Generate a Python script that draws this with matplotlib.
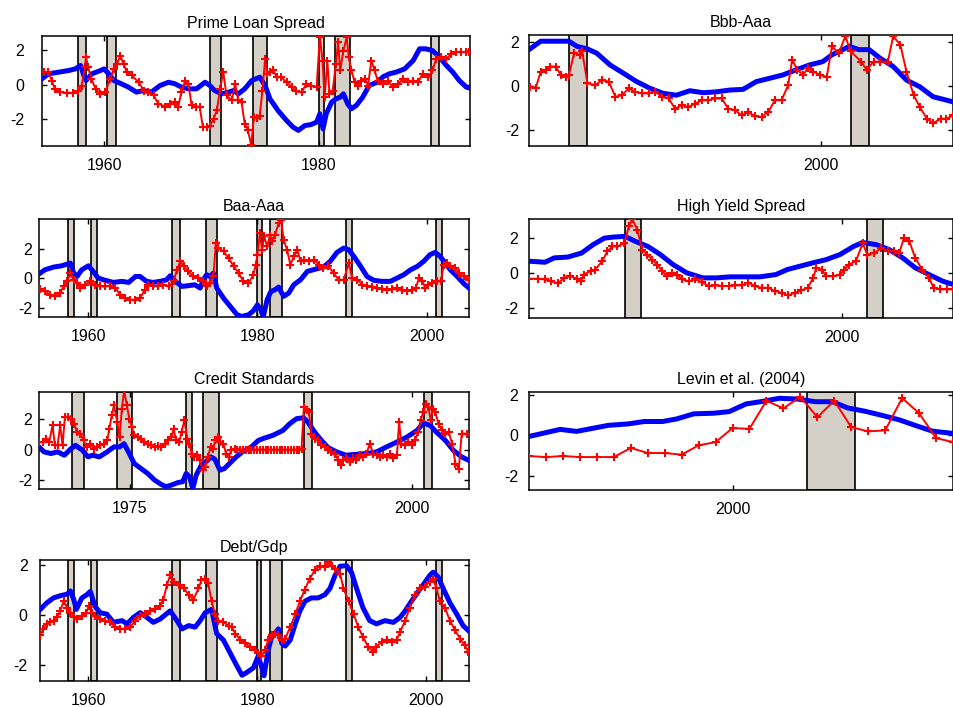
import numpy as np
import matplotlib
matplotlib.use('Agg')
import matplotlib.pyplot as plt

plt.rcParams['font.family'] = ['Liberation Sans', 'DejaVu Sans']
plt.rcParams['axes.unicode_minus'] = False

# NBER recessions (start, end)
recessions = [(1957.6, 1958.3), (1960.3, 1961.1), (1969.9, 1970.9), (1973.9, 1975.2),
              (1980.0, 1980.5), (1981.5, 1982.9), (1990.5, 1991.2), (2001.1, 2001.8)]

# (year, value)
prime_red = [(1954.35, 0.71), (1954.8, 0.71), (1955.1, 0.23), (1955.4, -0.25), (1955.9, -0.44), (1956.5, -0.48),
             (1957.1, -0.48), (1957.6, -0.35), (1957.9, -0.06), (1958.2, 1.0), (1958.3, 1.58), (1958.5, 1.0),
             (1958.8, 0.33), (1959.2, -0.25), (1959.6, -0.54), (1960.1, -0.44), (1960.55, 0.33), (1960.9, 0.9),
             (1961.2, 1.19), (1961.5, 1.67), (1961.8, 1.19), (1962.1, 0.71), (1962.6, 0.52), (1963.2, 0.13),
             (1963.7, -0.35), (1964.1, -0.44), (1964.6, -0.63), (1965.05, -1.12), (1965.7, -1.27), (1966.15, -1.15),
             (1966.6, -1.02), (1966.9, -1.27), (1967.2, -0.44), (1967.55, 0.23), (1967.85, 0.04), (1968.15, -1.21),
             (1968.6, -1.27), (1968.9, -1.3), (1969.2, -2.46), (1969.55, -2.46), (1969.85, -2.37), (1970.2, -1.98),
             (1970.5, -1.5), (1970.8, -0.25), (1971.1, 0.71), (1971.4, -0.63), (1971.9, -0.92), (1972.2, 0.04),
             (1972.5, -0.92), (1972.8, -1.02), (1973.1, -2.27), (1973.4, -2.65), (1973.7, -3.5), (1973.95, -1.88),
             (1974.2, -1.92), (1974.5, -1.79), (1974.75, -0.35), (1975.0, 1.48), (1975.2, 0.62), (1975.45, 0.71),
             (1975.75, 0.81), (1976.1, 0.42), (1976.5, 0.42), (1977.0, 0.13), (1977.5, -0.15), (1977.9, -0.4),
             (1978.4, -0.44), (1978.85, 0.04), (1979.3, -0.06), (1979.8, -0.15), (1980.1, 2.73), (1980.35, 1.38),
             (1980.55, -0.73), (1980.8, 1.38), (1981.0, -0.54), (1981.3, -0.35), (1981.6, 1.19), (1981.8, 2.44),
             (1982.0, 0.81), (1982.3, 1.96), (1982.6, 2.73), (1982.8, 1.58), (1983.05, 0.81), (1983.35, 0.13),
             (1983.65, -0.06), (1983.97, 0.23), (1984.3, 0.33), (1984.6, -0.06), (1984.9, 1.38), (1985.2, 0.81),
             (1985.5, 0.23), (1986.0, 0.04), (1986.45, 0.23), (1986.9, -0.15), (1987.4, 0.04), (1987.85, 0.33),
             (1988.3, 0.13), (1988.8, 0.23), (1989.25, 0.13), (1989.7, 0.62), (1990.2, 0.42), (1990.6, 0.81),
             (1990.95, 1.48), (1991.4, 1.58), (1991.9, 1.48), (1992.35, 1.77), (1992.8, 1.87), (1993.3, 1.87),
             (1993.7, 1.87), (1994.05, 1.87)]
prime_blue = [(1954.2, 0.33), (1954.8, 0.62), (1955.75, 0.71), (1956.7, 0.81), (1957.3, 0.9), (1957.8, 1.1),
              (1958.1, 0.52), (1958.3, 0.23), (1958.85, 0.62), (1959.5, 0.77), (1960.0, 0.9), (1960.4, 0.62),
              (1960.9, 0.23), (1961.6, 0.04), (1962.25, -0.15), (1963.0, -0.44), (1963.65, -0.35), (1964.4, -0.44),
              (1965.2, -0.06), (1966.0, 0.13), (1966.6, 0.04), (1967.2, -0.15), (1967.85, -0.25), (1968.6, -0.25),
              (1969.4, 0.13), (1969.85, -0.06), (1970.3, -0.35), (1970.95, -0.54), (1971.6, -0.44), (1972.05, -0.35),
              (1972.5, -0.54), (1973.1, -0.25), (1973.75, 0.23), (1974.5, 0.42), (1975.0, -0.06), (1975.45, -0.83),
              (1976.2, -1.5), (1977.0, -2.08), (1977.6, -2.46), (1978.1, -2.65), (1978.7, -2.37), (1979.3, -2.31),
              (1979.8, -2.17), (1980.1, -1.69), (1980.4, -2.56), (1980.7, -1.69), (1981.2, -1.02), (1981.6, -0.83),
              (1982.0, -0.73), (1982.3, -0.54), (1982.7, -1.12), (1983.05, -1.4), (1983.5, -1.21), (1984.1, -0.73),
              (1984.7, -0.06), (1985.5, 0.15), (1986.0, 0.45), (1986.6, 0.62), (1987.2, 0.71), (1988.0, 0.9),
              (1988.8, 1.38), (1989.4, 2.06), (1990.0, 2.06), (1990.6, 1.96), (1991.25, 1.58), (1991.9, 1.1),
              (1992.5, 0.71), (1993.1, 0.23), (1993.75, -0.15), (1994.05, -0.2)]

bbb_red = [(1989.05, -0.06), (1989.25, -0.1), (1989.44, 0.65), (1989.63, 0.73), (1989.8, 0.88), (1990.0, 0.88),
           (1990.2, 0.5), (1990.38, 0.42), (1990.5, 0.5), (1990.7, 1.48), (1990.9, 1.41), (1991.0, 1.56),
           (1991.2, 0.12), (1991.5, 0.05), (1991.75, 0.27), (1992.0, 0.2), (1992.25, -0.48), (1992.5, -0.41),
           (1992.75, -0.1), (1993.0, -0.26), (1993.25, -0.33), (1993.5, -0.33), (1993.75, -0.26), (1994.0, -0.48),
           (1994.25, -0.56), (1994.5, -1.02), (1994.75, -0.86), (1995.0, -0.94), (1995.25, -0.79), (1995.5, -0.64),
           (1995.75, -0.64), (1996.0, -0.56), (1996.25, -0.56), (1996.5, -1.02), (1996.75, -1.09), (1997.0, -1.32),
           (1997.25, -1.17), (1997.5, -1.36), (1997.75, -1.39), (1998.0, -1.17), (1998.25, -0.64), (1998.5, -0.64),
           (1998.75, 0.05), (1998.9, 1.18), (1999.1, 0.73), (1999.3, 0.5), (1999.5, 0.8), (1999.7, 0.65),
           (1999.95, 0.5), (2000.2, 0.42), (2000.4, 1.79), (2000.65, 1.48), (2000.9, 2.24), (2001.1, 1.56),
           (2001.5, 1.1), (2001.7, 0.73), (2001.97, 1.1), (2002.2, 1.1), (2002.5, 1.1), (2002.7, 2.24),
           (2002.97, 1.86), (2003.2, 0.65), (2003.47, -0.41), (2003.7, -0.94), (2003.97, -1.47), (2004.2, -1.67),
           (2004.5, -1.47), (2004.7, -1.47), (2004.95, -1.32)]
bbb_blue = [(1989.0, 1.64), (1989.44, 2.02), (1989.94, 2.02), (1990.5, 2.02), (1990.8, 1.79), (1991.2, 1.67),
            (1991.55, 1.48), (1992.05, 0.95), (1992.55, 0.58), (1993.05, 0.2), (1993.55, -0.1), (1994.05, -0.33),
            (1994.55, -0.41), (1995.05, -0.21), (1995.55, -0.3), (1996.05, -0.26), (1996.55, -0.18), (1997.05, -0.15),
            (1997.55, 0.2), (1998.05, 0.35), (1998.55, 0.5), (1999.05, 0.73), (1999.55, 0.95), (2000.05, 1.1),
            (2000.4, 1.41), (2000.8, 1.64), (2001.05, 1.79), (2001.4, 1.64), (2001.8, 1.64), (2002.2, 1.26),
            (2002.7, 0.88), (2003.2, 0.27), (2003.7, -0.03), (2004.2, -0.48), (2004.95, -0.71)]

baa_red = [(1954.3, -0.72), (1954.9, -0.88), (1955.5, -1.1), (1956.1, -1.21), (1956.7, -0.99), (1957.1, -0.54),
           (1957.5, -0.2), (1957.9, 0.36), (1958.3, -0.09), (1958.7, -0.31), (1959.1, -0.65), (1959.65, -0.43),
           (1960.25, -0.2), (1960.8, -0.43), (1961.4, -0.54), (1962.0, -0.54), (1962.6, -0.49), (1963.2, -0.65),
           (1963.8, -1.1), (1964.4, -1.33), (1965.0, -1.44), (1965.6, -1.44), (1966.15, -1.33), (1966.7, -0.76),
           (1967.1, -0.43), (1967.7, -0.54), (1968.3, -0.49), (1968.9, -0.43), (1969.5, -0.54), (1970.1, -0.2),
           (1970.5, 0.58), (1970.9, 1.15), (1971.3, 0.81), (1971.85, 0.47), (1972.45, 0.13), (1973.0, 0.02),
           (1973.6, -0.2), (1974.0, -0.54), (1974.4, -0.31), (1974.8, 0.13), (1975.1, 2.38), (1975.4, 2.04),
           (1976.0, 1.82), (1976.6, 1.37), (1977.2, 0.81), (1977.8, 0.36), (1978.35, -0.2), (1978.95, -0.31),
           (1979.5, 0.2), (1979.8, 0.9), (1980.0, 1.6), (1980.3, 3.06), (1980.55, 1.93), (1980.8, 2.83),
           (1981.15, 2.16), (1981.5, 2.94), (1981.75, 2.49), (1982.1, 2.94), (1982.5, 3.73), (1982.8, 3.96),
           (1983.1, 2.61), (1983.5, 1.93), (1983.9, 0.92), (1984.3, 1.48), (1984.7, 1.93), (1985.1, 1.15),
           (1985.5, 1.26), (1986.1, 1.15), (1986.7, 1.26), (1987.25, 0.92), (1987.8, 0.7), (1988.4, 0.81),
           (1989.0, 0.36), (1989.6, -0.09), (1990.2, -0.09), (1990.8, 1.03), (1991.2, 0.02), (1991.8, -0.09),
           (1992.4, -0.43), (1993.0, -0.54), (1993.55, -0.58), (1994.15, -0.65), (1994.7, -0.72), (1995.3, -0.76),
           (1995.9, -0.72), (1996.5, -0.65), (1997.1, -0.76), (1997.7, -0.88), (1998.3, -0.76), (1998.7, -0.65),
           (1999.1, 0.02), (1999.5, -0.2), (1999.85, -0.65), (2000.2, -0.43), (2000.6, -0.31), (2001.2, -0.2),
           (2001.7, -0.2), (2002.0, 0.92), (2002.4, 1.03), (2002.8, 0.81), (2003.3, 0.7), (2003.8, 0.36),
           (2004.4, 0.13), (2005.0, -0.09)]
baa_blue = [(1954.2, 0.3), (1954.9, 0.58), (1955.9, 0.76), (1956.9, 0.85), (1957.9, 1.03), (1958.3, 0.36),
            (1958.7, 0.13), (1959.25, 0.58), (1960.05, 0.85), (1960.6, 0.47), (1961.2, 0.02), (1962.0, -0.13),
            (1963.0, -0.27), (1963.97, -0.2), (1964.8, -0.27), (1965.6, 0.13), (1966.15, 0.13), (1966.9, -0.2),
            (1967.7, -0.27), (1968.5, -0.2), (1969.3, -0.09), (1969.7, 0.18), (1970.3, -0.2), (1971.1, -0.54),
            (1971.85, -0.49), (1972.6, -0.43), (1973.25, -0.65), (1973.6, -0.09), (1974.0, 0.25), (1974.4, 0.13),
            (1974.8, 0.36), (1975.2, -0.65), (1976.0, -1.33), (1976.8, -1.89), (1977.6, -2.45), (1978.15, -2.56),
            (1978.95, -2.45), (1979.5, -2.2), (1980.0, -1.78), (1980.4, -2.11), (1980.7, -2.56), (1981.15, -1.44),
            (1981.6, -0.88), (1982.1, -0.76), (1982.5, -0.58), (1983.1, -1.21), (1983.7, -0.99), (1984.3, -0.43),
            (1985.1, -0.09), (1985.9, 0.47), (1986.9, 0.63), (1987.8, 0.76), (1988.6, 1.15), (1989.4, 1.75),
            (1990.2, 2.04), (1990.8, 1.93), (1991.4, 1.48), (1992.2, 0.81), (1992.95, 0.13), (1993.75, -0.13),
            (1994.7, -0.2), (1995.7, -0.2), (1996.5, 0.02), (1997.3, 0.25), (1998.1, 0.58), (1998.9, 0.81),
            (1999.65, 1.15), (2000.4, 1.6), (2001.0, 1.75), (2001.6, 1.48), (2002.2, 1.03), (2002.8, 0.58),
            (2003.6, 0.13), (2004.4, -0.36), (2005.0, -0.65)]

hy_red = [(1986.32, -0.34), (1986.7, -0.34), (1987.0, -0.38), (1987.26, -0.48), (1987.55, -0.61), (1987.85, -0.29),
          (1988.1, -0.19), (1988.4, -0.34), (1988.57, -0.48), (1988.7, -0.1), (1989.0, 0.1), (1989.2, 0.19),
          (1989.5, 0.67), (1989.73, 1.24), (1989.95, 1.52), (1990.17, 1.52), (1990.46, 1.71), (1990.67, 2.67),
          (1990.82, 3.09), (1991.04, 2.48), (1991.25, 1.33), (1991.47, 1.05), (1991.69, 0.76), (1991.9, 0.48),
          (1992.13, 0.1), (1992.34, -0.19), (1992.56, 0.0), (1992.78, -0.1), (1993.0, -0.38), (1993.29, -0.48),
          (1993.58, -0.38), (1993.87, -0.53), (1994.16, -0.76), (1994.45, -0.72), (1994.74, -0.76), (1995.03, -0.76),
          (1995.32, -0.72), (1995.6, -0.72), (1995.9, -0.57), (1996.19, -0.76), (1996.48, -0.86), (1996.77, -0.86),
          (1997.06, -1.05), (1997.35, -1.14), (1997.64, -1.3), (1997.93, -1.14), (1998.22, -1.01), (1998.5, -0.86),
          (1998.73, -0.29), (1998.87, 0.29), (1999.1, 0.19), (1999.3, -0.19), (1999.6, -0.19), (1999.9, -0.1),
          (2000.1, 0.19), (2000.3, 0.48), (2000.6, 0.67), (2000.9, 1.71), (2001.1, 1.05), (2001.4, 1.14),
          (2001.7, 1.43), (2001.99, 1.24), (2002.28, 1.24), (2002.5, 1.14), (2002.7, 2.0), (2002.94, 1.81),
          (2003.2, 0.86), (2003.5, 0.19), (2003.8, -0.29), (2004.0, -0.86), (2004.3, -0.95), (2004.6, -0.95),
          (2004.85, -0.95)]
hy_blue = [(1986.3, 0.67), (1987.0, 0.61), (1987.4, 0.86), (1988.0, 0.91), (1988.6, 1.14), (1989.1, 1.62),
           (1989.6, 2.0), (1990.0, 2.06), (1990.5, 2.1), (1990.96, 1.81), (1991.5, 1.52), (1992.05, 1.05),
           (1992.6, 0.48), (1993.2, 0.0), (1993.9, -0.29), (1994.5, -0.29), (1995.1, -0.23), (1995.7, -0.23),
           (1996.4, -0.23), (1997.1, -0.1), (1997.6, 0.19), (1998.15, 0.38), (1998.7, 0.57), (1999.3, 0.76),
           (1999.9, 1.05), (2000.5, 1.52), (2000.9, 1.75), (2001.5, 1.62), (2002.07, 1.33), (2002.65, 0.86),
           (2003.2, 0.29), (2003.8, -0.1), (2004.4, -0.48), (2004.85, -0.67)]

credit_red = [(1966.97, 0.5), (1967.27, 0.5), (1967.56, 0.72), (1967.86, 0.5), (1968.15, 1.6), (1968.36, 0.28),
              (1968.6, 0.28), (1968.83, 1.6), (1969.04, 0.28), (1969.25, 2.14), (1969.5, 2.14), (1969.8, 2.04),
              (1970.08, 1.7), (1970.3, 1.16), (1970.6, 1.05), (1970.9, 0.61), (1971.2, 0.18), (1971.5, 0.39),
              (1971.8, 0.07), (1972.1, 0.18), (1972.4, 0.28), (1972.7, 0.39), (1973.0, 0.61), (1973.2, 1.38),
              (1973.4, 2.25), (1973.6, 2.91), (1973.9, 1.82), (1974.1, 0.83), (1974.3, 2.69), (1974.5, 3.9),
              (1974.75, 2.91), (1974.96, 2.04), (1975.2, 1.49), (1975.4, 0.94), (1975.7, 0.83), (1976.0, 0.72),
              (1976.3, 0.5), (1976.6, 0.39), (1976.9, 0.28), (1977.2, 0.18), (1977.5, 0.22), (1977.8, 0.18),
              (1978.1, 0.39), (1978.4, 0.61), (1978.7, 0.83), (1978.9, 1.38), (1979.1, 0.61), (1979.4, 0.5),
              (1979.6, 1.16), (1979.85, 1.93), (1980.1, 0.72), (1980.3, 0.39), (1980.5, -0.26), (1980.7, -0.48),
              (1980.97, -0.37), (1981.2, -0.7), (1981.5, -1.36), (1981.7, -1.14), (1981.9, -0.48), (1982.2, 0.18),
              (1982.4, 0.07), (1982.6, 0.61), (1982.8, 0.83), (1983.05, 0.5), (1983.3, 0.39), (1983.55, -0.26),
              (1983.8, -0.48), (1984.0, -0.04), (1984.3, 0.07), (1984.55, 0.0), (1984.8, 0.0), (1985.05, 0.0),
              (1985.3, 0.0), (1985.55, 0.0), (1985.8, 0.0), (1986.05, 0.0), (1986.3, 0.0), (1986.55, 0.0),
              (1986.8, 0.0), (1987.05, 0.0), (1987.3, 0.0), (1987.55, 0.0), (1987.8, 0.0), (1988.05, 0.0),
              (1988.3, 0.0), (1988.55, 0.0), (1988.8, 0.0), (1989.05, 0.0), (1989.3, 0.0), (1989.55, 0.0),
              (1989.8, 0.0), (1990.05, 0.0), (1990.24, 0.07), (1990.45, 2.8), (1990.7, 2.58), (1990.9, 2.47),
              (1991.1, 1.05), (1991.4, 0.72), (1991.7, 0.61), (1992.0, 0.28), (1992.3, 0.18), (1992.6, 0.0),
              (1992.9, -0.15), (1993.2, -0.26), (1993.5, -0.7), (1993.7, -1.03), (1993.9, -0.7), (1994.2, -0.53),
              (1994.5, -0.81), (1994.8, -0.53), (1995.1, -0.7), (1995.4, -0.37), (1995.7, -0.48), (1996.0, -0.26),
              (1996.3, 0.39), (1996.6, -0.26), (1996.9, -0.37), (1997.2, -0.48), (1997.5, -0.37), (1997.8, -0.48),
              (1998.1, -0.31), (1998.4, -0.53), (1998.7, -0.37), (1998.9, 1.82), (1999.1, 0.39), (1999.4, 0.28),
              (1999.7, 0.5), (2000.0, 0.28), (2000.3, 0.61), (2000.6, 1.16), (2000.8, 1.93), (2001.05, 2.47),
              (2001.3, 3.02), (2001.5, 2.8), (2001.7, 1.93), (2001.9, 2.69), (2002.1, 2.47), (2002.4, 1.71),
              (2002.7, 1.27), (2003.0, 1.05), (2003.3, 1.16), (2003.6, 0.39), (2003.9, -0.92), (2004.2, -1.25),
              (2004.45, 1.05), (2004.9, 1.05)]
credit_blue = [(1966.95, 0.18), (1967.4, -0.15), (1968.0, -0.26), (1968.6, -0.15), (1969.2, -0.37), (1969.8, 0.07),
               (1970.2, 0.28), (1970.8, -0.04), (1971.3, -0.48), (1971.7, -0.37), (1972.3, -0.48), (1973.0, -0.15),
               (1973.6, 0.18), (1974.1, 0.18), (1974.5, 0.39), (1974.96, -0.26), (1975.4, -0.92), (1976.0, -1.25),
               (1976.6, -1.58), (1977.2, -2.01), (1977.8, -2.3), (1978.2, -2.45), (1978.7, -2.34), (1979.3, -2.17),
               (1979.7, -2.12), (1980.0, -1.58), (1980.3, -1.79), (1980.6, -2.56), (1980.9, -1.68), (1981.35, -1.03),
               (1981.8, -0.77), (1982.2, -0.48), (1982.55, -0.63), (1983.0, -1.36), (1983.4, -1.25), (1983.85, -0.92),
               (1984.45, -0.48), (1985.0, -0.15), (1985.8, 0.18), (1986.4, 0.6), (1986.8, 0.72), (1987.7, 0.94),
               (1988.6, 1.27), (1989.2, 1.71), (1989.8, 2.04), (1990.4, 2.1), (1990.8, 1.82), (1991.4, 1.16),
               (1992.0, 0.61), (1992.6, 0.13), (1993.35, -0.15), (1994.2, -0.37), (1995.1, -0.31), (1996.0, -0.26),
               (1996.9, -0.15), (1997.8, 0.18), (1998.7, 0.5), (1999.6, 0.83), (2000.5, 1.27), (2001.05, 1.75),
               (2001.65, 1.6), (2002.2, 1.16), (2003.0, 0.61), (2003.7, -0.04), (2004.45, -0.48), (2005.05, -0.7)]

# Levin et al. series is quarterly from 1997Q1
levin_quarters = 1997.0 + 0.25 * np.arange(26)
levin_red_values = [-1.02, -1.07, -1.02, -1.07, -1.07, -1.07, -0.62, -0.87, -0.87, -0.95, -0.49, -0.33, 0.36,
                    0.33, 1.72, 1.34, 1.92, 0.9, 1.72, 0.41, 0.2, 0.25, 1.85, 1.1, -0.13, -0.33]
levin_red = list(zip(levin_quarters, levin_red_values))
levin_blue = [(1997.0, -0.05), (1997.46, 0.3), (1997.7, 0.2), (1998.17, 0.5), (1998.46, 0.57), (1998.7, 0.69),
              (1998.97, 0.69), (1999.18, 0.82), (1999.43, 1.07), (1999.72, 1.1), (1999.95, 1.18), (2000.2, 1.56),
              (2000.45, 1.69), (2000.69, 1.84), (2000.96, 1.8), (2001.22, 1.67), (2001.47, 1.67), (2001.7, 1.36),
              (2001.95, 1.2), (2002.22, 0.98), (2002.46, 0.77), (2002.7, 0.49), (2002.95, 0.21), (2003.25, 0.1)]

debt_red = [(1954.33, -0.82), (1954.7, -0.56), (1955.1, -0.36), (1955.5, -0.3), (1955.9, -0.23), (1956.3, -0.1),
            (1956.7, 0.16), (1957.1, 0.55), (1957.5, 0.29), (1957.9, 0.09), (1958.3, -0.1), (1958.7, -0.17),
            (1959.25, -0.04), (1959.8, 0.09), (1960.05, 0.35), (1960.4, 0.09), (1960.8, -0.04), (1961.4, -0.17),
            (1962.0, -0.23), (1962.6, -0.3), (1963.2, -0.49), (1963.8, -0.56), (1964.4, -0.56), (1964.97, -0.49),
            (1965.55, -0.23), (1966.15, -0.04), (1966.7, 0.03), (1967.3, 0.16), (1967.9, 0.22), (1968.5, 0.35),
            (1968.9, 0.61), (1969.3, 1.19), (1969.7, 1.58), (1970.1, 1.32), (1970.7, 1.19), (1971.3, 1.06),
            (1971.9, 0.81), (1972.45, 0.61), (1973.05, 1.06), (1973.4, 1.39), (1973.8, 1.43), (1974.2, 1.26),
            (1974.6, 0.55), (1975.0, 0.03), (1975.4, -0.23), (1976.0, -0.3), (1976.6, -0.43), (1977.0, -0.49),
            (1977.4, -0.75), (1978.0, -1.01), (1978.55, -1.14), (1979.15, -1.27), (1979.7, -1.4), (1980.1, -1.53),
            (1980.5, -1.66), (1980.9, -1.4), (1981.3, -1.01), (1981.7, -0.82), (1982.1, -0.75), (1982.5, -0.82),
            (1982.9, -1.01), (1983.3, -0.95), (1983.9, -0.49), (1984.5, 0.03), (1985.05, 0.55), (1985.6, 1.0),
            (1986.2, 1.45), (1986.8, 1.78), (1987.4, 1.97), (1988.0, 1.91), (1988.4, 2.1), (1988.8, 1.97),
            (1989.2, 1.84), (1989.8, 1.65), (1990.2, 1.06), (1990.8, 0.55), (1991.4, 0.03), (1991.95, -0.49),
            (1992.5, -0.88), (1993.1, -1.27), (1993.7, -1.47), (1994.1, -1.27), (1994.7, -1.08), (1995.3, -1.01),
            (1995.9, -1.08), (1996.5, -0.99), (1996.9, -0.69), (1997.5, -0.23), (1998.05, 0.29), (1998.65, 0.81),
            (1999.2, 1.06), (1999.8, 1.13), (2000.4, 1.32), (2000.8, 1.45), (2001.2, 1.06), (2001.6, 0.55),
            (2002.2, 0.29), (2002.8, -0.23), (2003.4, -0.62), (2004.0, -0.95), (2004.55, -1.21), (2004.95, -1.47)]
debt_blue = [(1954.33, 0.22), (1955.1, 0.48), (1955.9, 0.68), (1956.7, 0.77), (1957.5, 0.83), (1957.9, 0.96),
             (1958.3, 0.61), (1958.6, 0.22), (1959.25, 0.68), (1959.85, 0.81), (1960.25, 0.94), (1960.8, 0.35),
             (1961.4, 0.09), (1962.2, 0.03), (1963.0, -0.3), (1964.0, -0.23), (1964.6, -0.36), (1965.35, -0.1),
             (1966.15, 0.09), (1966.95, -0.1), (1967.7, -0.3), (1968.5, -0.17), (1969.7, 0.16), (1970.5, -0.23),
             (1971.1, -0.56), (1971.9, -0.43), (1972.65, -0.49), (1973.25, -0.23), (1973.85, 0.09), (1974.6, 0.22),
             (1975.2, -0.75), (1976.0, -1.01), (1976.8, -1.53), (1977.6, -2.05), (1978.2, -2.42), (1978.75, -2.31),
             (1979.55, -2.12), (1980.1, -1.66), (1980.5, -2.05), (1980.8, -2.44), (1981.3, -1.4), (1981.7, -0.88),
             (1982.2, -0.69), (1982.5, -0.56), (1982.9, -1.14), (1983.3, -1.25), (1983.9, -1.01), (1984.5, -0.36),
             (1985.05, 0.16), (1985.65, 0.55), (1986.4, 0.68), (1987.2, 0.68), (1988.0, 0.81), (1988.6, 1.06),
             (1989.2, 1.58), (1989.8, 1.95), (1990.55, 1.97), (1991.15, 1.71), (1991.75, 1.06), (1992.5, 0.29),
             (1993.3, -0.23), (1994.1, -0.36), (1995.1, -0.23), (1996.1, -0.3), (1996.9, -0.1), (1997.5, 0.16),
             (1998.25, 0.55), (1999.05, 0.94), (1999.6, 1.19), (2000.4, 1.58), (2000.8, 1.71), (2001.4, 1.52),
             (2002.0, 1.06), (2002.8, 0.48), (2003.6, 0.03), (2004.35, -0.43), (2004.95, -0.62)]

W, H = 954, 707
fig = plt.figure(figsize=(W / 100, H / 100), dpi=100)


def draw_panel(box, title, red, blue, xlim, ylim, xticks, ypad):
    # box in pixels: left, top, right, bottom
    x0, y0, x1, y1 = box
    ax = fig.add_axes([x0 / W, 1 - y1 / H, (x1 - x0) / W, (y1 - y0) / H])
    for a, b in recessions:
        if b > xlim[0] and a < xlim[1]:
            ax.axvspan(a, b, facecolor='#d4d0c8', edgecolor='black', linewidth=1.2, zorder=1)
    rx, ry = zip(*red)
    bx, by = zip(*blue)
    ax.plot(bx, by, color='#0000ff', lw=3.6, zorder=3, solid_joinstyle='round')
    ax.plot(rx, ry, color='#ff0000', lw=1.4, marker='+', ms=5.5, mew=1.5, zorder=4)
    ax.set_xlim(xlim)
    ax.set_ylim(ylim)
    ax.set_xticks(xticks)
    ax.set_yticks([-2, 0, 2])
    ax.tick_params(direction='in', top=True, right=True, length=3.5, width=1, labelsize=11.5)
    ax.tick_params(axis='y', pad=ypad)
    ax.tick_params(axis='x', pad=8.5)
    for s in ax.spines.values():
        s.set_linewidth(1.1)
    ax.set_title(title, fontsize=11.5, pad=6)
    return ax


draw_panel((42, 36, 470, 146), 'Prime Loan Spread', prime_red, prime_blue,
           (1954.2, 1994.1), (-3.55, 2.8), [1960, 1980], 13)
draw_panel((529, 35, 953, 146), 'Bbb-Aaa', bbb_red, bbb_blue,
           (1989.0, 2004.95), (-2.7, 2.3), [2000], 7)
draw_panel((39, 219, 469, 317), 'Baa-Aaa', baa_red, baa_blue,
           (1954.2, 2005.0), (-2.6, 4.0), [1960, 1980, 2000], 5)
draw_panel((529, 219, 953, 318), 'High Yield Spread', hy_red, hy_blue,
           (1986.3, 2004.85), (-2.6, 3.1), [2000], 8)
draw_panel((39, 392, 469, 489), 'Credit Standards', credit_red, credit_blue,
           (1966.95, 2005.1), (-2.6, 3.8), [1975, 2000], 5)
draw_panel((529, 392, 953, 490), 'Levin et al. (2004)', levin_red, levin_blue,
           (1997.0, 2003.25), (-2.7, 2.15), [2000], 8)
draw_panel((40, 560, 469, 681), 'Debt/Gdp', debt_red, debt_blue,
           (1954.3, 2005.05), (-2.65, 2.2), [1960, 1980, 2000], 9)

fig.savefig('out.png', dpi=100)
